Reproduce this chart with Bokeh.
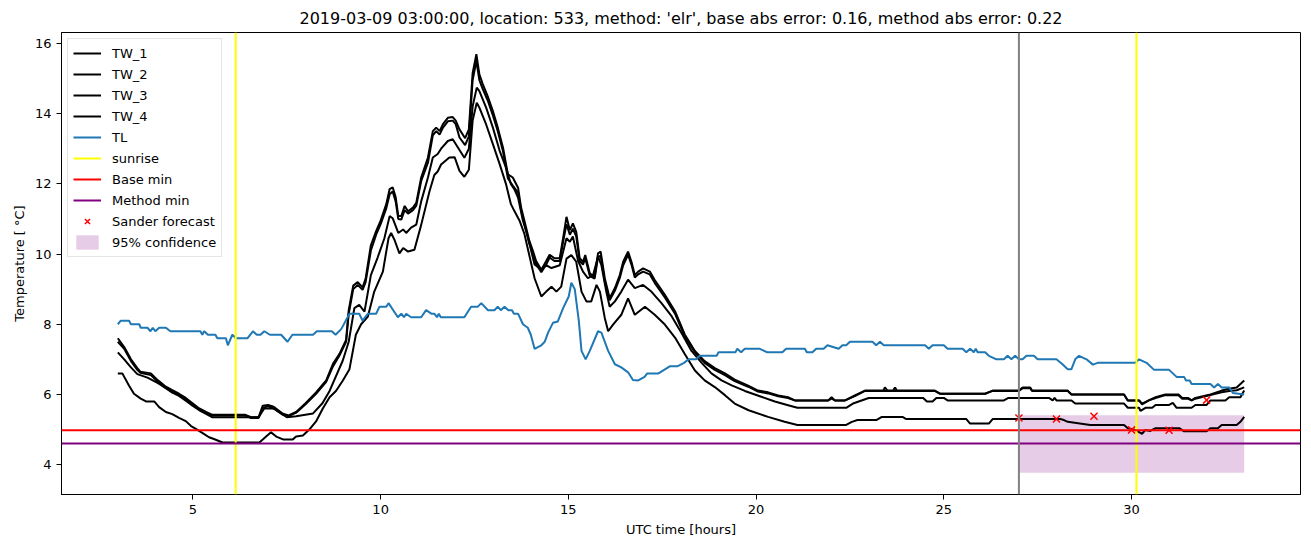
from bokeh.plotting import figure
from bokeh.models import Range1d, FixedTicker, Span, Legend, LegendItem
from bokeh.embed import file_html
from bokeh.resources import INLINE

# ---------------- data ----------------
tw1_t = [3.0, 3.17, 3.35, 3.52, 3.6, 3.88, 4.07, 4.28, 4.45, 4.63, 4.81, 4.99, 5.17, 5.35, 5.52, 6.4, 6.55, 6.75,
         6.86, 7.0, 7.15, 7.4, 7.55, 7.75, 8.0, 8.28, 8.55, 8.73, 8.9, 9.08, 9.15, 9.27, 9.39, 9.52, 9.6, 9.74, 9.88,
         10.0, 10.15, 10.24, 10.32, 10.4, 10.47, 10.55, 10.64, 10.73, 10.86, 10.95, 11.08, 11.26, 11.39, 11.48, 11.57,
         11.66, 11.79, 11.92, 12.0, 12.1, 12.25, 12.35, 12.45, 12.55, 12.63, 12.72, 12.85, 12.99, 13.12, 13.26, 13.39,
         13.52, 13.66, 13.74, 13.87, 13.96, 14.06, 14.14, 14.28, 14.41, 14.5, 14.63, 14.77, 14.86, 14.95, 15.04, 15.12,
         15.21, 15.3, 15.39, 15.45, 15.57, 15.7, 15.79, 15.86, 15.97, 16.1, 16.24, 16.37, 16.46, 16.59, 16.68, 16.77,
         16.86, 16.99, 17.17, 17.3, 17.57, 17.84, 18.1, 18.37, 18.63, 18.9, 19.17, 19.43, 19.79, 20.05, 20.32, 20.59,
         20.85, 21.03, 21.92, 22.01, 22.1, 22.37, 22.63, 22.9, 23.39, 23.43, 23.5, 23.65, 23.7, 23.75, 24.76, 24.9,
         26.1, 26.3, 27.0, 27.1, 27.3, 27.35, 28.3, 28.4, 29.8, 29.9, 30.2, 30.28, 30.46, 30.64, 30.9, 31.25, 31.35,
         31.5, 31.6, 31.7, 32.1, 32.4, 32.6, 32.8, 33.0]
tw1_v = [7.6, 7.35, 7.0, 6.75, 6.65, 6.6, 6.4, 6.22, 6.12, 6.02, 5.9, 5.75, 5.6, 5.5, 5.42, 5.42, 5.35, 5.35,
         5.68, 5.7, 5.65, 5.45, 5.4, 5.5, 5.75, 6.06, 6.4, 6.87, 7.15, 7.55, 8.4, 9.1, 9.2, 9.05, 9.3, 10.25, 10.65,
         10.95, 11.42, 11.85, 11.9, 11.62, 11.08, 11.08, 11.37, 11.22, 11.32, 11.46, 12.18, 12.75, 13.5, 13.6, 13.5,
         13.7, 13.88, 13.9, 13.8, 13.55, 13.3, 13.55, 15.15, 15.69, 15.12, 14.84, 14.5, 14.07, 13.6, 13.03, 12.27,
         12.18, 11.89, 11.33, 10.77, 10.38, 10.08, 9.8, 9.55, 9.8, 9.98, 9.88, 9.88, 10.45, 11.06, 10.68, 10.87,
         10.63, 9.88, 9.78, 9.97, 9.45, 9.35, 10.02, 10.07, 9.31, 8.74, 9.03, 9.4, 9.78, 10.07, 9.78, 9.4,
         9.5, 9.59, 9.5, 9.26, 8.84, 8.37, 7.71, 7.24, 6.95, 6.75, 6.6, 6.42, 6.25, 6.11, 6.06, 5.97,
         5.92, 5.83, 5.83, 5.92, 5.83, 5.83, 5.97, 6.11, 6.11, 6.2, 6.11, 6.11, 6.2, 6.11, 6.11, 6.02,
         6.02, 6.11, 6.11, 6.2, 6.2, 6.11, 6.11, 6.0, 6.0, 5.83, 5.83, 5.72, 5.83, 5.92, 6.0, 6.0, 5.9,
         5.9, 5.83, 5.9, 6.0, 6.11, 6.16, 6.2, 6.4]

tw2_t = [3.0, 3.17, 3.35, 3.52, 3.6, 3.88, 4.07, 4.28, 4.45, 4.63, 4.81, 4.99, 5.17, 5.35, 5.52, 6.4, 6.55, 6.75,
         6.86, 7.0, 7.15, 7.4, 7.55, 7.75, 8.0, 8.28, 8.55, 8.73, 8.9, 9.08, 9.15, 9.27, 9.39, 9.52, 9.6, 9.74, 9.88,
         10.0, 10.15, 10.24, 10.32, 10.4, 10.47, 10.55, 10.64, 10.73, 10.86, 10.95, 11.08, 11.26, 11.39, 11.48, 11.57,
         11.66, 11.79, 11.92, 12.0, 12.1, 12.25, 12.35, 12.45, 12.55, 12.63, 12.72, 12.85, 12.99, 13.12, 13.26, 13.39,
         13.52, 13.66, 13.74, 13.87, 13.96, 14.06, 14.14, 14.28, 14.41, 14.5, 14.63, 14.77, 14.86, 14.95, 15.04, 15.12,
         15.21, 15.3, 15.39, 15.45, 15.57, 15.7, 15.79, 15.86, 15.97, 16.1, 16.24, 16.37, 16.46, 16.59, 16.68, 16.77,
         16.86, 16.99, 17.17, 17.3, 17.57, 17.84, 18.1, 18.37, 18.63, 18.9, 19.17, 19.43, 19.79, 20.05, 20.32, 20.59,
         20.85, 21.03, 21.92, 22.01, 22.1, 22.37, 22.63, 22.9, 23.39, 23.5, 24.76, 24.9, 26.1, 26.3, 27.0, 27.1,
         27.3, 27.35, 28.3, 28.4, 29.8, 29.9, 30.2, 30.28, 30.46, 30.64, 30.9, 31.25, 31.35, 31.5, 31.6, 31.7, 32.1,
         32.4, 32.6, 32.8, 33.0]
tw2_v = [7.5, 7.3, 6.95, 6.7, 6.62, 6.55, 6.35, 6.18, 6.08, 5.98, 5.86, 5.72, 5.58, 5.46, 5.4, 5.4, 5.33, 5.33,
         5.62, 5.66, 5.6, 5.42, 5.38, 5.48, 5.72, 6.02, 6.36, 6.8, 7.1, 7.5, 8.3, 9.0, 9.12, 8.98, 9.2, 10.1, 10.55,
         10.85, 11.3, 11.7, 11.78, 11.5, 11.0, 10.98, 11.25, 11.15, 11.25, 11.38, 12.08, 12.6, 13.38, 13.5, 13.4,
         13.6, 13.78, 13.8, 13.7, 13.32, 13.1, 13.35, 14.95, 15.5, 14.95, 14.7, 14.38, 13.95, 13.5, 12.92, 12.15,
         11.95, 11.75, 11.25, 10.68, 10.3, 10.0, 9.72, 9.48, 9.7, 9.9, 9.8, 9.8, 10.35, 10.85, 10.55, 10.72,
         10.5, 9.8, 9.7, 9.88, 9.38, 9.3, 9.92, 9.95, 9.22, 8.68, 8.96, 9.32, 9.68, 9.98, 9.7, 9.33,
         9.42, 9.5, 9.42, 9.18, 8.76, 8.3, 7.65, 7.2, 6.9, 6.7, 6.55, 6.38, 6.22, 6.08, 6.03, 5.95,
         5.9, 5.83, 5.83, 5.88, 5.83, 5.83, 5.95, 6.1, 6.1, 6.1, 6.1, 6.02, 6.02, 6.1, 6.1, 6.18,
         6.18, 6.1, 6.1, 6.0, 6.0, 5.83, 5.83, 5.74, 5.83, 5.9, 5.98, 5.98, 5.88, 5.88, 5.83, 5.88, 5.98,
         6.06, 6.1, 6.12, 6.2]

tw3_t = [3.0, 3.17, 3.35, 3.52, 3.79, 4.07, 4.28, 4.45, 4.63, 4.81, 4.99, 5.17, 5.35, 5.52, 6.75, 6.9, 7.15, 7.5,
         7.75, 8.2, 8.45, 8.64, 8.99, 9.15, 9.3, 9.43, 9.57, 9.74, 9.92, 10.1, 10.24, 10.32, 10.47, 10.6, 10.68, 10.81,
         10.95, 11.08, 11.26, 11.39, 11.52, 11.61, 11.79, 11.92, 12.05, 12.23, 12.35, 12.45, 12.56, 12.63, 12.81,
         12.99, 13.17, 13.34, 13.47, 13.56, 13.66, 13.79, 13.9, 14.1, 14.28, 14.41, 14.55, 14.77, 14.95, 15.04, 15.12,
         15.26, 15.39, 15.52, 15.66, 15.79, 15.88, 16.01, 16.1, 16.24, 16.41, 16.59, 16.77, 16.99, 17.21, 17.48,
         17.75, 18.01, 18.28, 18.55, 18.81, 19.08, 19.35, 19.7, 20.1, 20.5, 20.9, 21.1, 22.4, 22.6, 23.0, 24.45,
         24.55, 24.7, 24.8, 25.0, 25.1, 26.6, 26.72, 27.8, 27.9, 27.95, 28.0, 28.4, 28.5, 29.8, 29.9, 30.2, 30.24,
         30.37, 30.55, 30.64, 31.0, 31.1, 31.2, 31.6, 31.7, 32.0, 32.1, 32.5, 32.6, 32.9, 33.0]
tw3_v = [7.2, 7.0, 6.77, 6.58, 6.48, 6.32, 6.18, 6.05, 5.96, 5.82, 5.68, 5.55, 5.45, 5.35, 5.35, 5.6, 5.6, 5.35,
         5.38, 5.46, 5.75, 6.1, 6.96, 7.5, 8.46, 8.55, 8.36, 9.4, 9.9, 10.45, 11.08, 11.02, 10.6, 10.7, 10.6, 10.75,
         10.84, 11.5, 12.18, 12.75, 12.85, 13.0, 13.22, 13.27, 13.05, 12.74, 13.0, 14.2, 14.74, 14.64, 14.17,
         13.6, 12.94, 12.46, 11.99, 11.85, 11.61, 10.95, 10.57, 9.7, 9.55, 9.68, 9.6, 9.68, 10.45, 10.35, 10.5,
         9.8, 9.5, 9.31, 9.4, 9.93, 9.68, 8.93, 8.5, 8.65, 8.93, 9.27, 9.03, 9.12, 8.93, 8.6,
         8.23, 7.76, 7.24, 6.9, 6.6, 6.4, 6.26, 6.1, 5.95, 5.8, 5.68, 5.62, 5.62, 5.75, 5.9, 5.9,
         5.8, 5.8, 5.9, 5.9, 5.83, 5.83, 5.9, 5.9, 5.83, 5.9, 5.83, 5.83, 5.74, 5.74, 5.62, 5.62, 5.53,
         5.62, 5.62, 5.7, 5.7, 5.76, 5.62, 5.62, 5.7, 5.7, 5.83, 5.83, 5.92, 5.92, 6.11]

tw4_t = [3.0, 3.12, 3.3, 3.43, 3.61, 3.75, 3.97, 4.1, 4.28, 4.45, 4.63, 4.81, 4.95, 5.08, 5.26, 5.43, 5.56, 5.79,
         6.77, 6.95, 7.08, 7.22, 7.4, 7.66, 7.75, 7.93, 8.1, 8.28, 8.46, 8.64, 8.81, 8.99, 9.17, 9.34, 9.48, 9.66,
         9.83, 10.06, 10.21, 10.28, 10.37, 10.5, 10.6, 10.73, 10.9, 11.08, 11.3, 11.43, 11.52, 11.61, 11.83, 11.97,
         12.1, 12.23, 12.35, 12.45, 12.56, 12.63, 12.81, 12.99, 13.17, 13.34, 13.47, 13.56, 13.7, 13.83, 14.1, 14.28,
         14.41, 14.55, 14.68, 14.81, 14.95, 15.08, 15.21, 15.35, 15.48, 15.61, 15.75, 15.84, 15.97, 16.06, 16.19,
         16.41, 16.59, 16.77, 17.04, 17.3, 17.57, 17.84, 18.1, 18.37, 18.63, 18.9, 19.17, 19.43, 19.8, 20.32, 20.76,
         21.1, 22.4, 22.55, 22.7, 23.2, 23.35, 23.9, 24.0, 25.6, 25.7, 26.2, 26.3, 28.1, 28.2, 28.3, 28.9, 29.8,
         29.9, 30.1, 30.28, 30.37, 30.5, 30.64, 31.27, 31.4, 32.0, 32.1, 32.3, 32.4, 32.8, 32.9, 33.0]
tw4_v = [6.6, 6.6, 6.25, 6.02, 5.88, 5.8, 5.8, 5.64, 5.5, 5.44, 5.33, 5.24, 5.1, 5.02, 4.9, 4.78, 4.73, 4.63,
         4.63, 4.8, 4.92, 4.8, 4.72, 4.72, 4.8, 4.83, 5.0, 5.23, 5.6, 5.92, 6.1, 6.39, 6.72, 7.7, 8.0, 8.22,
         8.93, 9.5, 10.45, 10.6, 10.4, 10.02, 10.17, 10.07, 10.12, 10.83, 11.78, 12.25, 12.35, 12.55, 12.75, 12.76,
         12.37, 12.2, 12.4, 13.8, 14.31, 14.17, 13.69, 13.13, 12.56, 11.99, 11.42, 11.23, 10.95, 10.57, 9.31, 8.79,
         8.93, 9.07, 8.93, 9.07, 9.87, 9.97, 9.78, 8.93, 8.65, 8.65, 9.12, 8.93, 8.18, 7.8, 7.99,
         8.27, 8.74, 8.27, 8.5, 8.27, 7.99, 7.62, 7.15, 6.68, 6.4, 6.21, 5.98, 5.74, 5.55, 5.36, 5.22,
         5.13, 5.13, 5.22, 5.27, 5.27, 5.36, 5.36, 5.3, 5.3, 5.17, 5.17, 5.3, 5.3, 5.27, 5.22, 5.13, 5.13,
         5.04, 4.99, 4.88, 4.99, 4.96, 5.04, 5.04, 4.95, 4.95, 5.04, 5.04, 5.13, 5.13, 5.22, 5.36]

tl_t = [3.0, 3.08, 3.3, 3.35, 3.57, 3.61, 3.79, 3.87, 3.93, 4.0, 4.1, 4.28, 4.4, 5.2, 5.25, 5.3, 5.4, 5.6, 5.65,
        5.88, 5.93, 6.05, 6.15, 6.45, 6.6, 6.7, 6.8, 6.9, 7.05, 7.35, 7.52, 7.65, 8.2, 8.3, 8.7, 8.8, 8.95, 9.17,
        9.43, 9.52, 9.66, 9.88, 9.97, 10.15, 10.21, 10.46, 10.55, 10.62, 10.68, 10.81, 11.08, 11.21, 11.35, 11.43,
        11.5, 11.55, 11.6, 12.23, 12.41, 12.59, 12.68, 12.86, 13.03, 13.12, 13.2, 13.3, 13.4, 13.5, 13.55, 13.66,
        13.79, 13.92, 14.0, 14.1, 14.28, 14.37, 14.46, 14.59, 14.72, 14.86, 15.01, 15.08, 15.17, 15.28, 15.35, 15.46,
        15.57, 15.79, 15.88, 16.06, 16.24, 16.41, 16.59, 16.72, 16.86, 17.03, 17.1, 17.4, 17.55, 17.7, 17.9, 18.08,
        18.2, 18.4, 18.5, 18.95, 19.0, 19.45, 19.5, 19.6, 19.7, 20.1, 20.3, 20.7, 20.8, 21.3, 21.35, 21.5, 21.6,
        21.8, 21.9, 22.2, 22.3, 22.4, 22.5, 23.1, 23.2, 23.3, 23.4, 24.5, 24.6, 24.7, 25.0, 25.1, 25.5, 25.6, 25.7,
        25.8, 25.85, 25.9, 26.1, 26.2, 26.4, 26.6, 26.7, 26.8, 26.9, 27.0, 27.1, 27.2, 27.4, 27.5, 28.0, 28.16,
        28.3, 28.4, 28.5, 28.6, 28.8, 28.97, 29.1, 30.1, 30.2, 30.4, 30.6, 31.0, 31.1, 31.2, 31.4, 31.45, 31.55,
        31.6, 32.1, 32.2, 32.3, 32.4, 32.6, 32.7, 33.0]
tl_v = [8.0, 8.1, 8.1, 8.0, 8.0, 7.9, 7.9, 7.8, 7.9, 7.8, 7.9, 7.9, 7.8, 7.8, 7.7, 7.8, 7.7, 7.7, 7.6,
        7.6, 7.4, 7.7, 7.6, 7.6, 7.8, 7.7, 7.7, 7.8, 7.7, 7.7, 7.5, 7.7, 7.7, 7.8, 7.8, 7.7, 7.86, 8.3,
        8.3, 8.1, 8.3, 8.3, 8.5, 8.5, 8.6, 8.2, 8.3, 8.2, 8.3, 8.2, 8.2, 8.4, 8.3, 8.3,
        8.2, 8.3, 8.2, 8.2, 8.5, 8.5, 8.6, 8.4, 8.4, 8.5, 8.4, 8.5, 8.4, 8.4, 8.3, 8.3,
        8.0, 7.9, 7.7, 7.3, 7.4, 7.5, 7.76, 8.04, 8.08, 8.46, 8.79, 9.18, 9.0, 8.08, 7.24, 7.0,
        7.24, 7.8, 7.76, 7.24, 6.86, 6.77, 6.63, 6.41, 6.4, 6.5, 6.6, 6.6, 6.7, 6.8, 6.8, 6.9,
        7.0, 7.0, 7.1, 7.1, 7.2, 7.2, 7.3, 7.2, 7.3, 7.3, 7.2, 7.2, 7.3, 7.3, 7.2, 7.2, 7.3,
        7.3, 7.4, 7.3, 7.4, 7.4, 7.5, 7.5, 7.4, 7.5, 7.4, 7.4, 7.3, 7.4, 7.4, 7.3, 7.3, 7.2, 7.3,
        7.2, 7.3, 7.2, 7.2, 7.1, 7.0, 7.0, 7.1, 7.0, 7.1, 7.0, 7.0, 7.1, 7.1, 7.0, 7.0, 6.86,
        6.72, 6.72, 7.0, 7.1, 7.0, 6.85, 6.9, 6.9, 7.0, 6.9, 6.7, 6.7, 6.6, 6.5, 6.5, 6.4, 6.4,
        6.3, 6.3, 6.2, 6.3, 6.2, 6.2, 6.04, 6.0]

sunrise_hours = [6.14, 30.13]
forecast_start = [27.0]
base_min = 4.98
method_min = 4.60
sander_t = [27, 28, 29, 30, 31, 32]
sander_v = [5.33, 5.30, 5.38, 4.99, 4.98, 5.84]
conf_t = [27.0, 33.0]
conf_lo = [3.77, 3.77]
conf_hi = [5.41, 5.41]

x_ticks = [5, 10, 15, 20, 25, 30]
y_ticks = [4, 6, 8, 10, 12, 14, 16]
title_text = "2019-03-09 03:00:00, location: 533, method: 'elr', base abs error: 0.16, method abs error: 0.22"
FONT = "DejaVu Sans"
NAN = float("nan")

# ---------------- figure ----------------
p = figure(width=1311, height=547, output_backend="svg", toolbar_location=None,
           x_range=Range1d(1.5, 34.5), y_range=Range1d(3.15, 16.31),
           min_border_left=61, min_border_right=11, min_border_top=32, min_border_bottom=53)
p.title.text = title_text
p.title.align = "center"
p.title.text_font = FONT
p.title.text_font_size = "16px"
p.title.text_font_style = "normal"
p.title.text_color = "black"

p.xgrid.visible = False
p.ygrid.visible = False
p.outline_line_color = "black"
p.outline_line_width = 1
p.background_fill_color = "white"

for ax in (p.xaxis[0], p.yaxis[0]):
    ax.major_label_text_font = FONT
    ax.major_label_text_font_size = "13px"
    ax.major_label_text_color = "black"
    ax.axis_label_text_font = FONT
    ax.axis_label_text_font_size = "13px"
    ax.axis_label_text_font_style = "normal"
    ax.axis_label_text_color = "black"
    ax.major_tick_in = 0
    ax.major_tick_out = 5
    ax.minor_tick_line_color = None
    ax.axis_line_color = "black"
    ax.major_tick_line_color = "black"
p.xaxis.ticker = FixedTicker(ticks=x_ticks)
p.yaxis.ticker = FixedTicker(ticks=y_ticks)
p.xaxis.axis_label = "UTC time [hours]"
p.yaxis.axis_label = "Temperature [ °C]"

# confidence band
r_conf = p.varea(x=conf_t, y1=conf_lo, y2=conf_hi, fill_color="purple", fill_alpha=0.2)

# lines
r1 = p.line(tw1_t, tw1_v, line_color="black", line_width=2)
r2 = p.line(tw2_t, tw2_v, line_color="black", line_width=2)
r3 = p.line(tw3_t, tw3_v, line_color="black", line_width=2)
r4 = p.line(tw4_t, tw4_v, line_color="black", line_width=2)
r_tl = p.line(tl_t, tl_v, line_color="#1f77b4", line_width=2)

for h in sunrise_hours:
    p.add_layout(Span(location=h, dimension="height", line_color="yellow", line_width=2))
p.add_layout(Span(location=base_min, dimension="width", line_color="red", line_width=2))
p.add_layout(Span(location=method_min, dimension="width", line_color="purple", line_width=2))
for h in forecast_start:
    p.add_layout(Span(location=h, dimension="height", line_color="grey", line_width=2))

r_sx = p.scatter(sander_t, sander_v, marker="x", size=10, line_color="red", line_width=1.5)

# legend proxies (not visible in the plot area)
r_sun = p.line(x=[NAN, NAN], y=[NAN, NAN], line_color="yellow", line_width=2)
r_base = p.line(x=[NAN, NAN], y=[NAN, NAN], line_color="red", line_width=2)
r_meth = p.line(x=[NAN, NAN], y=[NAN, NAN], line_color="purple", line_width=2)

legend = Legend(items=[
    LegendItem(label="TW_1", renderers=[r1]),
    LegendItem(label="TW_2", renderers=[r2]),
    LegendItem(label="TW_3", renderers=[r3]),
    LegendItem(label="TW_4", renderers=[r4]),
    LegendItem(label="TL", renderers=[r_tl]),
    LegendItem(label="sunrise", renderers=[r_sun]),
    LegendItem(label="Base min", renderers=[r_base]),
    LegendItem(label="Method min", renderers=[r_meth]),
    LegendItem(label="Sander forecast", renderers=[r_sx]),
    LegendItem(label="95% confidence", renderers=[r_conf]),
], location="top_left")
legend.label_text_font = FONT
legend.label_text_font_size = "13px"
legend.label_text_color = "black"
legend.glyph_width = 28
legend.glyph_height = 18
legend.label_height = 18
legend.spacing = 3
legend.padding = 5
legend.margin = 6
legend.label_standoff = 11
legend.border_line_color = "#cccccc"
legend.border_line_width = 1
legend.background_fill_alpha = 0.8
p.add_layout(legend)

open("out.html", "w").write(file_html(p, INLINE))
